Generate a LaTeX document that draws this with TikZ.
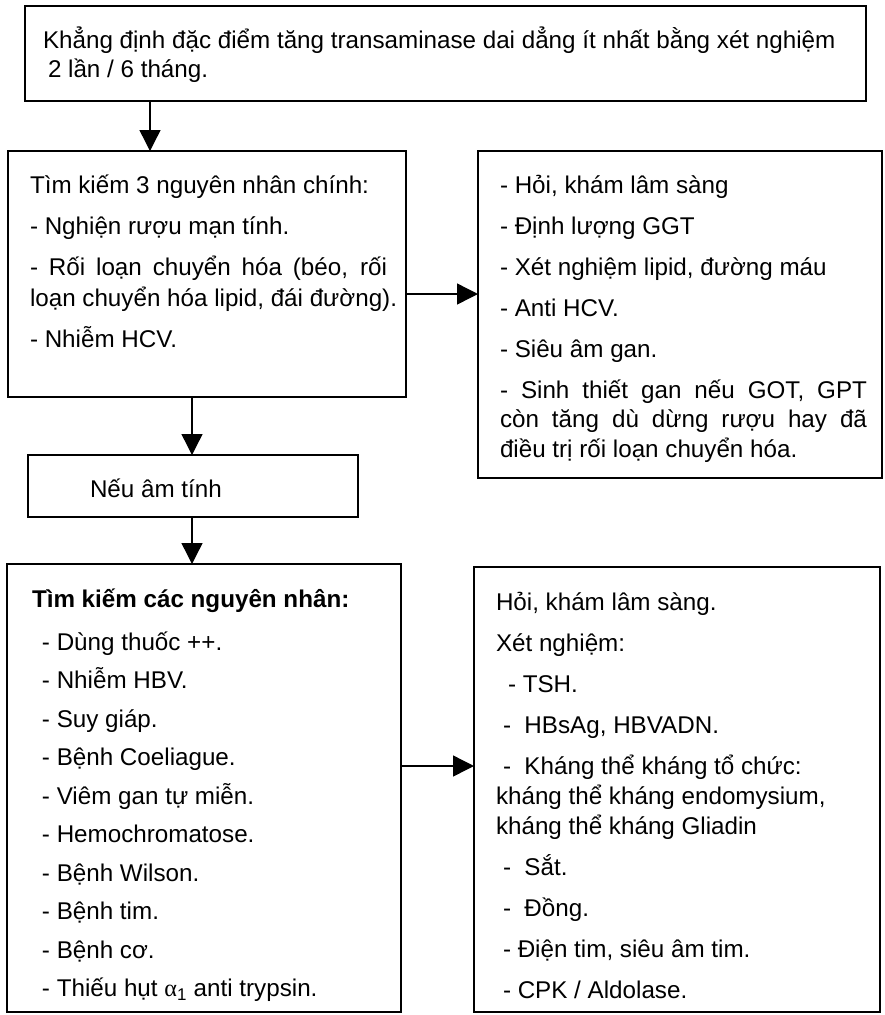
\documentclass[tikz,border=0pt]{standalone}
\usepackage{fontspec}
\setmainfont{Liberation Sans}
\newfontfamily\greekfont{Liberation Serif}
\usetikzlibrary{arrows.meta}

% \flowbox{left pad}{right pad}{height}{text width}{first baseline}{baselineskip}{parskip}{text}
\newcommand\flowbox[8]{%
  \hspace*{#1}%
  \begin{minipage}[t][#3][t]{#4}%
    \fontsize{24.2pt}{#6}\selectfont
    \lineskiplimit=-100pt \lineskip=0pt
    \parskip=#7\relax
    \rule{0pt}{#5}#8%
  \end{minipage}%
  \hspace*{#2}}

\tikzset{
  flow/.style={draw, line width=1.8pt, anchor=north west, inner sep=0pt, outer sep=0pt},
  arr/.style={line width=1.4pt, -{Triangle[length=21pt,width=21pt]}}
}

\begin{document}
\begin{tikzpicture}[x=1pt,y=-1pt]
\useasboundingbox (0,0) rectangle (884,1015);

% top statement
\node[flow] (b1) at (25,6) {\flowbox{18pt}{23pt}{95pt}{800pt}{42pt}{29pt}{0pt}{%
  \mbox{Khẳng định đặc điểm tăng transaminase dai dẳng ít nhất bằng xét nghiệm}\newline
  \mbox{\hspace*{5pt}2 lần / 6 tháng.}}};

% three main causes
\node[flow] (b2) at (8,151) {\flowbox{22pt}{19pt}{246pt}{357pt}{42pt}{31pt}{10pt}{%
  Tìm kiếm 3 nguyên nhân chính:\par
  - Nghiện rượu mạn tính.\par
  \makebox[\linewidth][s]{- Rối loạn chuyển hóa (béo, rối}\newline
  \mbox{loạn chuyển hóa lipid, đái đường).}\par
  - Nhiễm HCV.}};

% work-up for the main causes
\node[flow] (b3) at (478,151) {\flowbox{22pt}{15pt}{327pt}{367pt}{42pt}{29.5pt}{11.5pt}{%
  - Hỏi, khám lâm sàng\par
  - Định lượng GGT\par
  - Xét nghiệm lipid, đường máu\par
  - Anti HCV.\par
  - Siêu âm gan.\par
  \makebox[\linewidth][s]{- Sinh thiết gan nếu GOT, GPT}\newline
  \makebox[\linewidth][s]{còn tăng dù dừng rượu hay đã}\newline
  \mbox{điều trị rối loạn chuyển hóa.}}};

% negative result
\node[flow] (b4) at (28,455) {\flowbox{62pt}{28pt}{62pt}{240pt}{42pt}{29pt}{0pt}{%
  Nếu âm tính}};

% other causes
\node[flow] (b5) at (7,564) {\flowbox{25pt}{9pt}{448pt}{360pt}{43pt}{38.5pt}{0pt}{%
  \textbf{Tìm kiếm các nguyên nhân:}\par\vspace{4.5pt}
  \leftskip=10pt\relax
  - Dùng thuốc ++.\par
  - Nhiễm HBV.\par
  - Suy giáp.\par
  - Bệnh Coeliague.\par
  - Viêm gan tự miễn.\par
  - Hemochromatose.\par
  - Bệnh Wilson.\par
  - Bệnh tim.\par
  - Bệnh cơ.\par
  - Thiếu hụt {\greekfont α}\textsubscript{1} anti trypsin.}};

% work-up for the other causes
\node[flow] (b6) at (474,567) {\flowbox{22pt}{14pt}{445pt}{370pt}{43pt}{30pt}{11pt}{%
  Hỏi, khám lâm sàng.\par
  Xét nghiệm:\par
  \hspace*{12pt}- TSH.\par
  \hspace*{7pt}-\ \ HBsAg, HBVADN.\par
  \hspace*{7pt}-\ \ Kháng thể kháng tổ chức:\newline
  kháng thể kháng endomysium,\newline
  kháng thể kháng Gliadin\par
  \hspace*{7pt}-\ \ Sắt.\par
  \hspace*{7pt}-\ \ Đồng.\par
  \hspace*{7pt}- Điện tim, siêu âm tim.\par
  \hspace*{7pt}- CPK / Aldolase.}};

% connectors
\draw[arr] ([xshift=125pt]b1.south west) -- ([xshift=142pt]b2.north west);
\draw[arr] ([yshift=-143pt]b2.north east) -- ([yshift=-143pt]b3.north west);
\draw[arr] ([xshift=184pt]b2.south west) -- ([xshift=164pt]b4.north west);
\draw[arr] ([xshift=164pt]b4.south west) -- ([xshift=185pt]b5.north west);
\draw[arr] ([yshift=-202pt]b5.north east) -- ([yshift=-199pt]b6.north west);
\end{tikzpicture}
\end{document}
